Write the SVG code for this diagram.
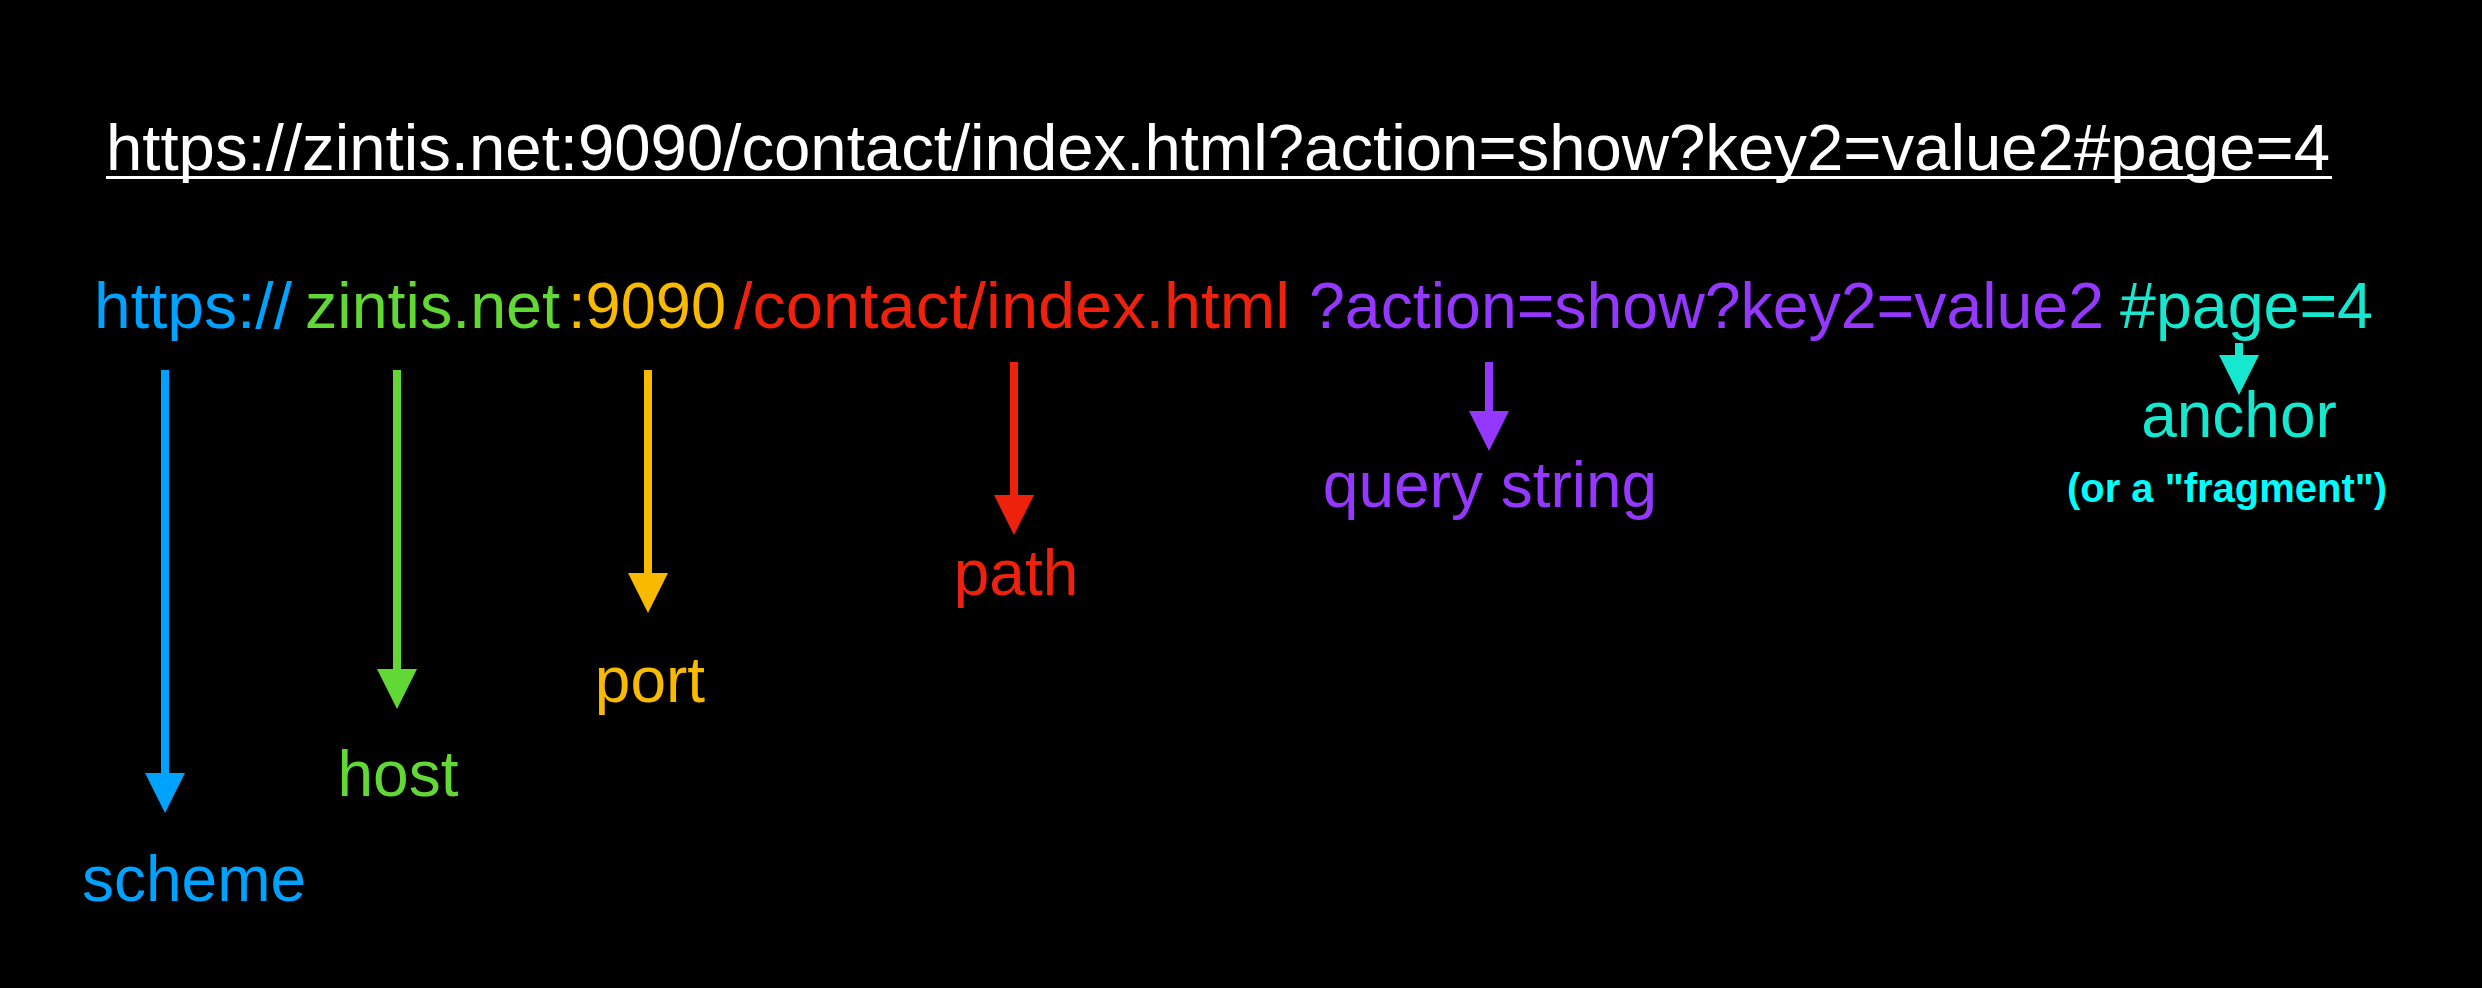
<svg xmlns="http://www.w3.org/2000/svg" width="2482" height="988" viewBox="0 0 2482 988">
<style>
text{font-family:"Liberation Sans",Arial,Helvetica,sans-serif;font-size:64px}
text.title{font-size:65px}
text.small{font-size:40px;font-weight:bold}
.lbl{text-anchor:middle}
.conn line{stroke-width:8;fill:none}
</style>
<defs>
<marker id="ah-blue" viewBox="0 -20 40 40" refX="0" refY="0" markerWidth="40" markerHeight="40" markerUnits="userSpaceOnUse" orient="auto"><path d="M0,-20L40,0L0,20z" fill="#00A2FF"/></marker>
<marker id="ah-green" viewBox="0 -20 40 40" refX="0" refY="0" markerWidth="40" markerHeight="40" markerUnits="userSpaceOnUse" orient="auto"><path d="M0,-20L40,0L0,20z" fill="#61D836"/></marker>
<marker id="ah-yellow" viewBox="0 -20 40 40" refX="0" refY="0" markerWidth="40" markerHeight="40" markerUnits="userSpaceOnUse" orient="auto"><path d="M0,-20L40,0L0,20z" fill="#F8BA00"/></marker>
<marker id="ah-red" viewBox="0 -20 40 40" refX="0" refY="0" markerWidth="40" markerHeight="40" markerUnits="userSpaceOnUse" orient="auto"><path d="M0,-20L40,0L0,20z" fill="#EE220C"/></marker>
<marker id="ah-purple" viewBox="0 -20 40 40" refX="0" refY="0" markerWidth="40" markerHeight="40" markerUnits="userSpaceOnUse" orient="auto"><path d="M0,-20L40,0L0,20z" fill="#9437FF"/></marker>
<marker id="ah-teal" viewBox="0 -20 40 40" refX="0" refY="0" markerWidth="40" markerHeight="40" markerUnits="userSpaceOnUse" orient="auto"><path d="M0,-20L40,0L0,20z" fill="#16E7CF"/></marker>
</defs>
<rect width="2482" height="988" fill="#000"/>
<g id="title">
<text class="title" x="106" y="170" fill="#fff" textLength="2224" lengthAdjust="spacingAndGlyphs">https://zintis.net:9090/contact/index.html?action=show?key2=value2#page=4</text>
<rect x="106" y="176" width="2226" height="3" fill="#fff"/>
</g>
<g id="url-parts">
<text x="94" y="328" fill="#00A2FF" textLength="198" lengthAdjust="spacingAndGlyphs">https://</text>
<text x="305" y="328" fill="#61D836" textLength="255" lengthAdjust="spacingAndGlyphs">zintis.net</text>
<text x="568" y="328" fill="#F8BA00" textLength="158" lengthAdjust="spacingAndGlyphs">:9090</text>
<text x="734" y="328" fill="#EE220C" textLength="556" lengthAdjust="spacingAndGlyphs">/contact/index.html</text>
<text x="1309" y="328" fill="#9437FF" textLength="795" lengthAdjust="spacingAndGlyphs">?action=show?key2=value2</text>
<text x="2120" y="328" fill="#16E7CF" textLength="253" lengthAdjust="spacingAndGlyphs">#page=4</text>
</g>
<g id="connectors" class="conn">
<line x1="165" y1="370" x2="165" y2="773" stroke="#00A2FF" marker-end="url(#ah-blue)"/>
<line x1="397" y1="370" x2="397" y2="669" stroke="#61D836" marker-end="url(#ah-green)"/>
<line x1="648" y1="370" x2="648" y2="573" stroke="#F8BA00" marker-end="url(#ah-yellow)"/>
<line x1="1014" y1="362" x2="1014" y2="495" stroke="#EE220C" marker-end="url(#ah-red)"/>
<line x1="1489" y1="362" x2="1489" y2="411" stroke="#9437FF" marker-end="url(#ah-purple)"/>
<line x1="2239" y1="343" x2="2239" y2="355" stroke="#16E7CF" marker-end="url(#ah-teal)"/>
</g>
<g id="scheme"><text class="lbl" x="194" y="901" fill="#00A2FF">scheme</text></g>
<g id="host"><text class="lbl" x="398" y="796" fill="#61D836">host</text></g>
<g id="port"><text class="lbl" x="650" y="702" fill="#F8BA00">port</text></g>
<g id="path"><text class="lbl" x="1016" y="595" fill="#EE220C">path</text></g>
<g id="query-string"><text class="lbl" x="1490" y="507" fill="#9437FF">query string</text></g>
<g id="anchor">
<text class="lbl" x="2239" y="437" fill="#16E7CF">anchor</text>
<text class="lbl small" x="2227" y="502" fill="#00FDFF">(or a "fragment")</text>
</g>
</svg>
